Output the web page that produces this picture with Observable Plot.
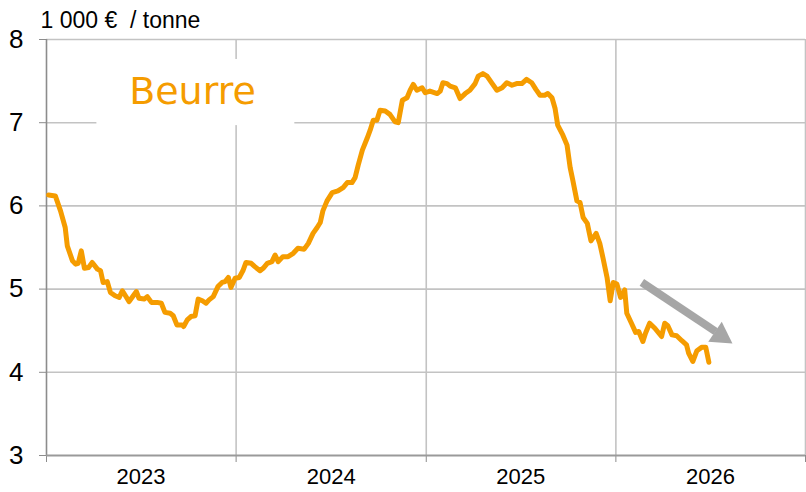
<!DOCTYPE html>
<html><head><meta charset="utf-8">
<script src="https://cdn.jsdelivr.net/npm/d3@7"></script>
<script src="https://cdn.jsdelivr.net/npm/@observablehq/plot@0.6"></script>
<style>body{margin:0;background:#fff}</style>
</head><body><div id="chart"></div>
<script>
const dates = [
"2023-01-05","2023-01-18","2023-01-28","2023-02-06","2023-02-10","2023-02-20","2023-02-26","2023-03-03","2023-03-09","2023-03-15",
"2023-03-23","2023-03-30","2023-04-09","2023-04-15","2023-04-20","2023-04-28","2023-05-04","2023-05-13","2023-05-21","2023-05-27",
"2023-06-02","2023-06-09","2023-06-17","2023-06-23","2023-06-28","2023-07-08","2023-07-14","2023-07-22","2023-08-02","2023-08-10",
"2023-08-17","2023-08-27","2023-09-02","2023-09-09","2023-09-19","2023-09-22","2023-09-29","2023-10-06","2023-10-14","2023-10-20",
"2023-10-28","2023-11-04","2023-11-10","2023-11-18","2023-11-27","2023-12-05","2023-12-11","2023-12-17","2023-12-22","2023-12-30",
"2024-01-07","2024-01-14","2024-01-20","2024-01-30","2024-02-06","2024-02-16","2024-02-22","2024-03-01","2024-03-10","2024-03-16",
"2024-03-22","2024-03-31","2024-04-10","2024-04-20","2024-04-29","2024-05-11","2024-05-19","2024-05-28","2024-06-05","2024-06-11",
"2024-06-16","2024-06-24","2024-07-04","2024-07-15","2024-07-25","2024-08-02","2024-08-11","2024-08-17","2024-08-23","2024-08-31",
"2024-09-09","2024-09-15","2024-09-21","2024-09-28","2024-10-04","2024-10-14","2024-10-23","2024-11-02","2024-11-08","2024-11-16",
"2024-11-25","2024-12-01","2024-12-07","2024-12-14","2024-12-24","2024-12-30","2025-01-08","2025-01-22","2025-01-28","2025-02-02",
"2025-02-10","2025-02-16","2025-02-26","2025-03-07","2025-03-17","2025-03-26","2025-04-05","2025-04-11","2025-04-20","2025-04-28",
"2025-05-08","2025-05-17","2025-05-27","2025-06-05","2025-06-15","2025-06-24","2025-07-04","2025-07-13","2025-07-23","2025-07-31",
"2025-08-08","2025-08-17","2025-08-23","2025-08-31","2025-09-06","2025-09-11","2025-09-21","2025-09-29","2025-10-05","2025-10-10",
"2025-10-18","2025-10-24","2025-10-30","2025-11-07","2025-11-14","2025-11-24","2025-12-01","2025-12-07","2025-12-15","2025-12-21",
"2025-12-27","2026-01-03","2026-01-10","2026-01-18","2026-01-22","2026-01-31","2026-02-08","2026-02-14","2026-02-22","2026-02-27",
"2026-03-07","2026-03-17","2026-03-30","2026-04-05","2026-04-11","2026-04-19","2026-04-28","2026-05-08","2026-05-17","2026-05-21",
"2026-05-29","2026-06-06","2026-06-15","2026-06-23","2026-06-29"
];
const prices = [
6.13,6.12,5.94,5.74,5.52,5.34,5.30,5.31,5.46,5.25,
5.26,5.32,5.24,5.22,5.08,5.09,4.96,4.92,4.90,4.98,
4.92,4.85,4.92,4.97,4.89,4.88,4.91,4.84,4.84,4.83,
4.72,4.71,4.68,4.57,4.57,4.55,4.63,4.67,4.68,4.88,
4.86,4.83,4.87,4.91,5.03,5.08,5.09,5.14,5.02,5.13,
5.14,5.22,5.32,5.31,5.27,5.22,5.25,5.31,5.33,5.41,
5.33,5.39,5.39,5.43,5.49,5.48,5.55,5.67,5.74,5.80,
5.94,6.06,6.16,6.18,6.22,6.28,6.28,6.34,6.49,6.67,
6.81,6.91,7.03,7.03,7.15,7.14,7.10,7.01,7.00,7.27,
7.30,7.39,7.46,7.39,7.42,7.36,7.38,7.35,7.38,7.48,
7.47,7.44,7.42,7.29,7.35,7.39,7.47,7.56,7.59,7.56,
7.47,7.39,7.42,7.48,7.45,7.47,7.47,7.52,7.48,7.40,
7.33,7.33,7.35,7.30,7.17,6.97,6.85,6.73,6.46,6.31,
6.06,6.04,5.86,5.79,5.58,5.67,5.55,5.38,5.14,4.86,
5.08,5.06,4.90,4.99,4.71,4.59,4.48,4.49,4.37,4.47,
4.59,4.53,4.43,4.59,4.56,4.45,4.44,4.38,4.33,4.23,
4.13,4.26,4.30,4.30,4.12
];
const yearLabels = ["2023","2024","2025","2026"];
const yearBounds = ["2023-01-01","2024-01-01","2025-01-01","2026-01-01","2027-01-01"];
const yTicks = [3,4,5,6,7,8];
const unitLabel = "1 000 €\u00a0 / tonne";
const seriesLabel = "Beurre";
// annotation anchors (data units)
const labelPos = {date: "2023-10-09", value: 7.22};
const labelBox = {x1: "2023-04-08", x2: "2024-04-23", y1: 6.965, y2: 7.76};
const arrowStart = {date: "2026-02-20", value: 5.08};
const arrowShaftEnd = {date: "2026-07-12", value: 4.49};
const arrowHead = {date: "2026-07-22", value: 4.44};

const P = d => new Date(d + "T00:00:00");
const data = dates.map((d, i) => ({date: P(d), value: prices[i]}));
const bounds = yearBounds.map(P);
const mids = yearLabels.map(y => P(y + "-07-02"));

const orange = "#f59c00";
const font = "'Liberation Sans', Arial, sans-serif";

const chart = Plot.plot({
  width: 806, height: 492,
  marginLeft: 46, marginRight: 1, marginTop: 39, marginBottom: 37,
  style: {fontFamily: font, background: "#fff", color: "#000"},
  x: {type: "time", domain: [bounds[0], bounds[bounds.length - 1]]},
  y: {domain: [3, 8]},
  marks: [
    Plot.gridY([4,5,6,7,8], {stroke: "#c3c3c3", strokeOpacity: 1, strokeWidth: 1.6}),
    Plot.gridX(bounds.slice(1), {stroke: "#c3c3c3", strokeOpacity: 1, strokeWidth: 1.6}),
    Plot.rect([labelBox], {x1: d => P(d.x1), x2: d => P(d.x2), y1: "y1", y2: "y2", fill: "#fff"}),
    Plot.axisY({ticks: yTicks, tickSize: 7, tickPadding: 16, fontSize: 26, stroke: "#8c8c8c", fill: "#000", label: null, tickFormat: d => String(d)}),
    Plot.axisX({ticks: bounds, tickSize: 7, tickFormat: () => "", stroke: "#8c8c8c", label: null}),
    Plot.axisX({ticks: mids, tickSize: 0, tickPadding: 13, fontSize: 22, fill: "#000", label: null, tickFormat: d3.utcFormat("%Y")}),
    Plot.ruleX([bounds[0]], {stroke: "#8c8c8c", strokeWidth: 1.6}),
    Plot.ruleY([3], {stroke: "#9a9a9a", strokeWidth: 2}),
    Plot.line(data, {x: "date", y: "value", stroke: orange, strokeWidth: 5, strokeLinejoin: "round", strokeLinecap: "round"}),
    Plot.text([seriesLabel], {x: P(labelPos.date), y: labelPos.value, text: d => d, fontSize: 38, fontFamily: "'DejaVu Sans', Verdana, sans-serif", fill: orange, lineAnchor: "bottom", textAnchor: "middle"}),
    Plot.text([unitLabel], {frameAnchor: "top-left", text: d => d, textAnchor: "start", lineAnchor: "bottom", dx: -6, dy: -12, fontSize: 23, fill: "#000"}),
    Plot.link([0], {x1: () => P(arrowStart.date), y1: () => arrowStart.value, x2: () => P(arrowShaftEnd.date), y2: () => arrowShaftEnd.value, stroke: "#a6a6a6", strokeWidth: 8, strokeLinecap: "butt"}),
    Plot.dot([0], {x: () => P(arrowHead.date), y: () => arrowHead.value, symbol: "triangle", r: 9, fill: "#a6a6a6", stroke: "none", rotate: 123.8})
  ]
});
document.getElementById("chart").appendChild(chart);
</script>
</body></html>
